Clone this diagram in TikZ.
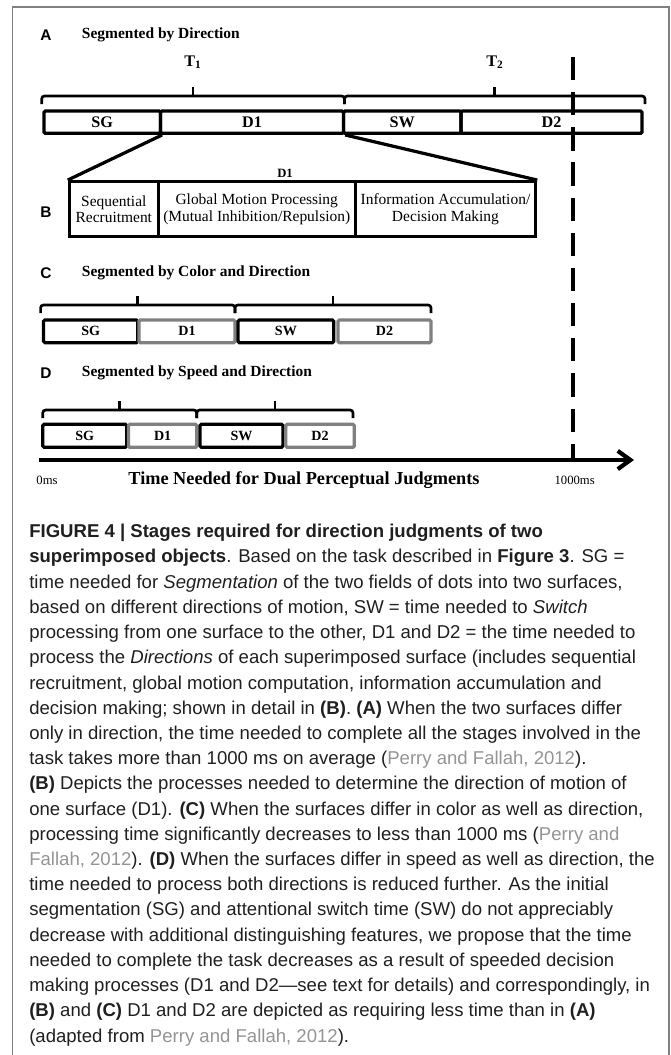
\documentclass[tikz,border=0pt]{standalone}
\usepackage{fontspec}
\setmainfont{Liberation Serif}
\newfontfamily\capfont{Liberation Sans}
\usetikzlibrary{arrows.meta}
\definecolor{boxgray}{gray}{0.5}
\definecolor{citegray}{gray}{0.58}
\definecolor{framegray}{gray}{0.5}
\definecolor{captext}{gray}{0.12}
\newcommand{\pfref}[1]{\textcolor{citegray}{#1}}
\newcommand{\timebrace}[3]{%
  \draw[brace] (#1,#3+8) -- (#1,#3) -- (#2,#3) -- (#2,#3+8);
  \draw[brace] ({(#1+#2)/2},#3) -- ({(#1+#2)/2},#3-9);}

\begin{document}
\begin{tikzpicture}[x=0.025cm,y=-0.025cm,
  seg/.style={draw,line width=2.3pt,rounded corners=1pt,inner sep=0pt,font=\fontsize{11.5}{12}\selectfont\bfseries},
  segs/.style={seg,font=\fontsize{10}{12}\selectfont\bfseries},
  stage/.style={draw,line width=2.3pt,inner sep=0pt,minimum height=1.375cm,align=center,font=\fontsize{11}{11.9}\selectfont},
  brace/.style={line width=1.9pt,rounded corners=2pt},
  head/.style={anchor=west,font=\fontsize{11}{13}\selectfont\bfseries},
  panel/.style={font=\capfont\fontsize{11}{13}\selectfont\bfseries},
  caption/.style={anchor=north west,inner sep=0pt,align=left,text=captext,font=\capfont\fontsize{13.2}{17.93}\selectfont}]
  \useasboundingbox (0,0) rectangle (671,1055);
  \draw[framegray,line width=1.1pt] (12.5,1060) -- (12.5,7) -- (669,7) -- (669,1060);

  \node[panel] (pA) at (46,35) {A};
  \node[head] (hA) at (77,35) {Segmented by Direction};
  \node[font=\fontsize{11.5}{12}\selectfont\bfseries] (t1) at (193,62) {T\textsubscript{1}};
  \node[font=\fontsize{11.5}{12}\selectfont\bfseries] (t2) at (495,62) {T\textsubscript{2}};
  \timebrace{41.7}{344.5}{96}
  \timebrace{344.5}{645}{96}
  \node[seg,minimum width=2.9125cm,minimum height=0.5575cm] (sgA) at (102.25,122.2) {SG};
  \node[seg,minimum width=4.5775cm,minimum height=0.5575cm] (d1A) at (252.05,122.2) {D1};
  \node[seg,minimum width=2.935cm,minimum height=0.5575cm] (swA) at (402.3,122.2) {SW};
  \node[seg,minimum width=4.525cm,minimum height=0.5575cm] (d2A) at (551.5,122.2) {D2};

  \node[panel] (pB) at (46,211.7) {B};
  \node[font=\fontsize{9}{10}\selectfont\bfseries] (bD1) at (285,173) {D1};
  \node[stage,minimum width=2.225cm] (rec) at (113.8,209.2) {Sequential\\Recruitment};
  \node[stage,minimum width=4.9225cm] (gmp) at (256.75,209.2) {Global Motion Processing\\(Mutual Inhibition/Repulsion)};
  \node[stage,minimum width=4.5125cm] (iad) at (445.45,209.2) {Information Accumulation/\\Decision Making};
  \draw[line width=2.3pt] (sgA.south east) -- (rec.north west);
  \draw[line width=2.3pt] (d1A.south east) -- (iad.north east);

  \node[panel] (pC) at (46,273.3) {C};
  \node[head] (hC) at (77,273.3) {Segmented by Color and Direction};
  \timebrace{40.6}{235}{305}
  \timebrace{235}{431}{305}
  \node[segs,minimum width=2.355cm,minimum height=0.5675cm] (sgC) at (90.7,331.3) {SG};
  \node[segs,draw=boxgray,minimum width=2.4cm,minimum height=0.5675cm] (d1C) at (187,331.3) {D1};
  \node[segs,minimum width=2.395cm,minimum height=0.5675cm] (swC) at (285.9,331.3) {SW};
  \node[segs,draw=boxgray,minimum width=2.325cm,minimum height=0.5675cm] (d2C) at (384.5,331.3) {D2};

  \node[panel] (pD) at (46,373.3) {D};
  \node[head] (hD) at (77,373.3) {Segmented by Speed and Direction};
  \timebrace{42.8}{196.8}{410}
  \timebrace{196.8}{353}{410}
  \node[segs,minimum width=2.0975cm,minimum height=0.575cm] (sgD) at (84.75,435.8) {SG};
  \node[segs,draw=boxgray,minimum width=1.71cm,minimum height=0.575cm] (d1D) at (162.6,435.8) {D1};
  \node[segs,minimum width=2.075cm,minimum height=0.575cm] (swD) at (241.5,435.8) {SW};
  \node[segs,draw=boxgray,minimum width=1.7125cm,minimum height=0.575cm] (d2D) at (320.05,435.8) {D2};

  \coordinate (t0) at (38.5,460);
  \coordinate (tend) at (634,460);
  \coordinate (m1000) at (573.3,57);
  \draw[line width=3pt,dash pattern=on 16.5pt off 8.5pt] (m1000) -- (m1000 |- t0);
  \draw[line width=3pt,-{Straight Barb[length=9pt,width=13pt]}] (t0) -- (tend);
  \node[font=\fontsize{9}{10}\selectfont] (l0) at (47,480) {0ms};
  \node[font=\fontsize{13}{14}\selectfont\bfseries] (lt) at (304,480) {Time Needed for Dual Perceptual Judgments};
  \node[font=\fontsize{9}{10}\selectfont] (l1) at (574.7,480) {1000ms};

  \node[caption] (cap) at (29,524) {\textbf{FIGURE 4 | Stages required for direction judgments of two}\\
\textbf{superimposed objects}. Based on the task described in \textbf{Figure 3}. SG =\\
time needed for \textit{Segmentation} of the two fields of dots into two surfaces,\\
based on different directions of motion, SW = time needed to \textit{Switch}\\
processing from one surface to the other, D1 and D2 = the time needed to\\
process the \textit{Directions} of each superimposed surface (includes sequential\\
recruitment, global motion computation, information accumulation and\\
decision making; shown in detail in \textbf{(B)}. \textbf{(A)} When the two surfaces differ\\
only in direction, the time needed to complete all the stages involved in the\\
task takes more than 1000 ms on average (\pfref{Perry and Fallah, 2012}).\\
\textbf{(B)} Depicts the processes needed to determine the direction of motion of\\
one surface (D1). \textbf{(C)} When the surfaces differ in color as well as direction,\\
processing time significantly decreases to less than 1000 ms (\pfref{Perry and}\\
\pfref{Fallah, 2012}). \textbf{(D)} When the surfaces differ in speed as well as direction, the\\
time needed to process both directions is reduced further. As the initial\\
segmentation (SG) and attentional switch time (SW) do not appreciably\\
decrease with additional distinguishing features, we propose that the time\\
needed to complete the task decreases as a result of speeded decision\\
making processes (D1 and D2—see text for details) and correspondingly, in\\
\textbf{(B)} and \textbf{(C)} D1 and D2 are depicted as requiring less time than in \textbf{(A)}\\
(adapted from \pfref{Perry and Fallah, 2012}).};
\end{tikzpicture}
\end{document}
